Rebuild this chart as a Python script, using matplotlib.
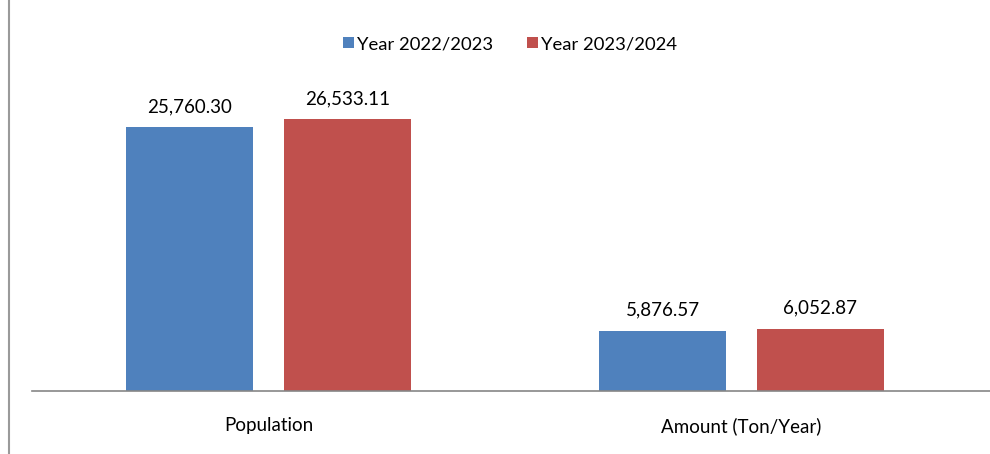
import matplotlib
matplotlib.use("Agg")
import matplotlib.pyplot as plt
from matplotlib.lines import Line2D
import numpy as np

categories = ["Population", "Amount (Ton/Year)"]
series_names = ["Year 2022/2023", "Year 2023/2024"]
values_2022 = [25760.30, 5876.57]
values_2023 = [26533.11, 6052.87]
colors = ["#4F81BD", "#C0504D"]

plt.rcParams['font.family'] = ['Lato', 'DejaVu Sans']

fig = plt.figure(figsize=(9.9, 4.54), dpi=100)
W, H = 990, 454
ax = fig.add_axes([32 / W, 1 - 391 / H, 958 / W, (391 - 84) / H])

x = np.arange(len(categories))
bw = 0.267
off = 0.167
for i, (vals, name, c) in enumerate(zip([values_2022, values_2023], series_names, colors)):
    pos = x + (off if i else -off)
    bars = ax.bar(pos, vals, width=bw, color=c, label=name)
    for b, v in zip(bars, vals):
        ax.annotate(f"{v:,.2f}", (b.get_x() + b.get_width() / 2, v),
                    xytext=(0, 9), textcoords="offset points",
                    ha="center", va="bottom", fontsize=13.5, color="#000000")

ax.set_xlim(-0.5, 1.5 + 12 / 473)
ax.set_ylim(0, 30000)
ax.set_yticks([])
ax.set_xticks(x)
ax.set_xticklabels(categories, fontsize=13.5)
ax.tick_params(axis='x', length=0, pad=19)
for s in ["top", "right", "left"]:
    ax.spines[s].set_visible(False)
ax.spines["bottom"].set_color("#868686")
ax.spines["bottom"].set_linewidth(1.2)

fig.legend(loc="center", bbox_to_anchor=(510 / W, 1 - 44 / H), ncol=2,
           frameon=False, fontsize=13.3, handlelength=0.6, handleheight=0.6,
           handletextpad=0.2, columnspacing=1.8)

fig.add_artist(Line2D([8.5 / W, 8.5 / W], [0, 1], transform=fig.transFigure,
                      color="#9a9a9a", lw=1.5))

fig.savefig("out.png", dpi=100)
